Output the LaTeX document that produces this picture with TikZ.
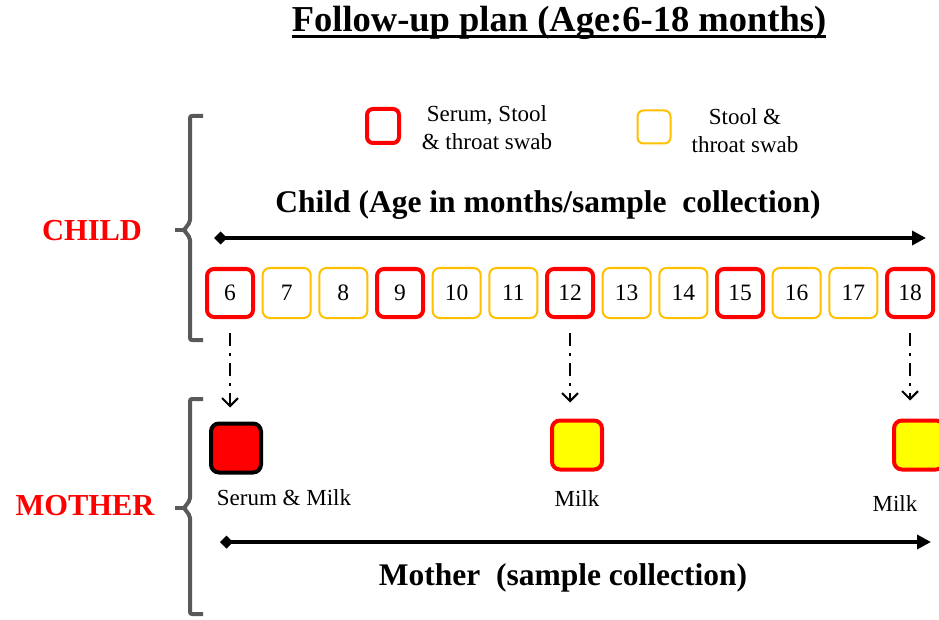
\documentclass[tikz,border=0pt]{standalone}
\usepackage{fontspec}
\setmainfont{Liberation Serif}
\usetikzlibrary{arrows.meta}
\definecolor{keyred}{HTML}{FF0000}
\definecolor{keygold}{HTML}{FFC000}
\definecolor{bracegray}{HTML}{595959}
\definecolor{milkyellow}{HTML}{FFFF00}
\begin{document}
\begin{tikzpicture}[x=1pt,y=-1pt,
  monthbox/.style={draw, rounded corners=7pt, inner sep=0pt, fill=white,
    font=\fontsize{23.5}{23.5}\selectfont},
  fullvisit/.style={monthbox, draw=keyred, line width=4pt,
    minimum width=46pt, minimum height=48pt},
  partvisit/.style={monthbox, draw=keygold, line width=2pt,
    minimum width=48pt, minimum height=50pt},
  momsample/.style={draw, rounded corners=8pt, line width=4pt,
    minimum width=50pt, minimum height=49pt, inner sep=0pt},
  brace/.style={draw=bracegray, line width=4pt, rounded corners=2pt},
  timeline/.style={line width=3.5pt, {Diamond[length=13pt,width=13pt]}-{Triangle[length=14pt,width=14pt]}},
  linkarrow/.style={line width=2pt, dash pattern=on 13pt off 7pt on 3pt off 7pt,
    -{Straight Barb[length=8pt,width=16pt,line width=2pt]}},
  sidelabel/.style={text=keyred, font=\fontsize{30.5}{30.5}\selectfont\bfseries},
  heading/.style={font=\fontsize{31.5}{31.5}\selectfont\bfseries},
  keytext/.style={align=center, font=\fontsize{23}{28}\selectfont},
  momtext/.style={font=\fontsize{23}{23}\selectfont}]
\useasboundingbox (0,0) rectangle (939,620);

% title with a heavy underline
\node[inner sep=0pt, font=\fontsize{36.5}{36.5}\selectfont\bfseries] (title) at (559,23)
  {Follow-up plan (Age:6-18 months)};
\draw[line width=2.5pt] ([yshift=-5pt]title.base west) -- ([yshift=-5pt]title.base east);

% legend
\node[fullvisit, minimum width=32pt, minimum height=34pt, rounded corners=6pt] (keyfull) at (383,126) {};
\node[keytext] (keyfulltxt) at (487,128) {Serum, Stool\\\& throat swab};
\node[partvisit, minimum width=33pt, minimum height=33pt, rounded corners=6pt] (keypart) at (654,127) {};
\node[keytext] (keyparttxt) at (745,131) {Stool \&\\throat swab};

% child section
\draw[brace] (203,116) -- (190,116) -- (190,222) -- (184,230) -- (190,238) -- (190,340) -- (203,340);
\draw[brace, rounded corners=0pt] (184,230) -- (175,230);
\node[sidelabel] (childlbl) at (92,231) {CHILD};
\node[heading] (childhead) at (548,205) {Child (Age in months/sample\ \ collection)};
\coordinate (ctail) at (214,238);
\coordinate (chead) at (926,238);
\draw[timeline] (ctail) -- (chead);

\foreach \m in {6,...,18}{
  \pgfmathsetmacro{\xx}{230+56.67*(\m-6)}
  \pgfmathtruncatemacro{\r}{mod(\m,3)}
  \ifnum\r=0
    \node[fullvisit] (m\m) at (\xx,293) {\m};
  \else
    \node[partvisit] (m\m) at (\xx,293) {\m};
  \fi
}

% mother section
\draw[brace] (203,399) -- (190,399) -- (190,500) -- (184,508) -- (190,516) -- (190,614) -- (203,614);
\draw[brace, rounded corners=0pt] (184,508) -- (175,508);
\node[sidelabel] (motherlbl) at (85,506) {MOTHER};

\node[momsample, draw=black, fill=keyred] (s6) at (236,448) {};
\node[momsample, draw=keyred, fill=milkyellow] (s12) at (577,445) {};
\node[momsample, draw=keyred, fill=milkyellow] (s18) at (919,445) {};

\node[momtext] (t6) at (284,498) {Serum \& Milk};
\node[momtext] (t12) at (577,499) {Milk};
\node[momtext] (t18) at (895,504) {Milk};

\draw[linkarrow] ([yshift=-14pt]m6.south) -- ([yshift=14pt]s6.north -| m6.south);
\draw[linkarrow] ([yshift=-14pt]m12.south) -- ([yshift=16pt]s12.north -| m12.south);
\draw[linkarrow] ([yshift=-14pt]m18.south) -- ([yshift=18pt]s18.north -| m18.south);

\coordinate (mtail) at (220,542);
\coordinate (mhead) at (931,542);
\draw[timeline] (mtail) -- (mhead);
\node[heading] (motherhead) at (563,578) {Mother\ \ (sample collection)};
\end{tikzpicture}
\end{document}
